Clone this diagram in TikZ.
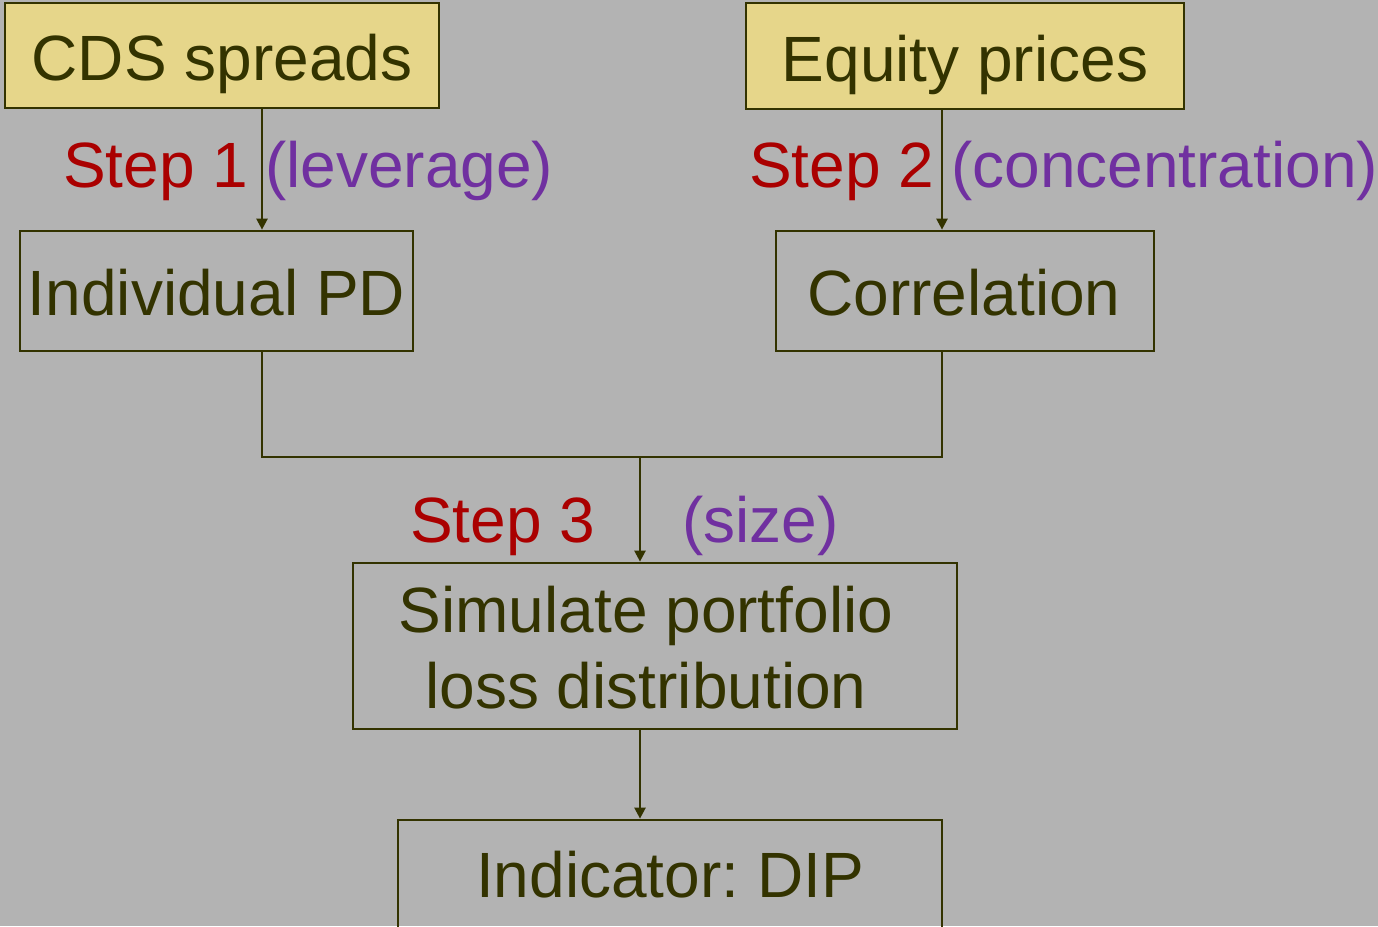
\documentclass[tikz,border=0pt]{standalone}
\usepackage{fontspec}
\setmainfont{Liberation Sans}
\usetikzlibrary{arrows.meta}
\definecolor{bg}{HTML}{B3B3B3}
\definecolor{boxfill}{HTML}{E6D68A}
\definecolor{ink}{HTML}{333300}
\definecolor{stepred}{HTML}{AA0000}
\definecolor{notepurple}{HTML}{7030A0}
\frenchspacing
\begin{document}
\begin{tikzpicture}[x=1pt,y=-1pt,
  box/.style={draw=ink,line width=2.7pt,inner sep=0pt,rectangle},
  srcbox/.style={box,fill=boxfill},
  lbl/.style={inner sep=0pt,text=ink,font=\fontsize{64pt}{77pt}\selectfont},
  steplbl/.style={lbl,text=stepred},
  notelbl/.style={lbl,text=notepurple},
  conn/.style={draw=ink,line width=2.3pt,-{Triangle[length=11pt,width=11pt]}},
  line/.style={draw=ink,line width=2.3pt}]
\fill[bg] (0,0) rectangle (1378,926);
\useasboundingbox (0,0) rectangle (1378,926);
% boxes
\node[srcbox,minimum width=434pt,minimum height=105pt] (cds) at (222,55.5) {};
\node[srcbox,minimum width=438pt,minimum height=106pt] (eq) at (965,56) {};
\node[box,minimum width=393pt,minimum height=120pt] (pd) at (216.5,291) {};
\node[box,minimum width=378pt,minimum height=120pt] (corr) at (965,291) {};
\node[box,minimum width=604pt,minimum height=166pt] (sim) at (655,646) {};
\node[box,minimum width=544pt,minimum height=114pt] (ind) at (670,877) {};
% texts
\node[lbl,anchor=base] (tcds) at (222,80) {CDS spreads};
\node[lbl,anchor=base] (teq) at (965,81) {Equity prices};
\node[lbl,anchor=base] (tpd) at (216.5,315) {Individual PD};
\node[lbl,anchor=base] (tcorr) at (964,315) {Correlation};
\node[lbl,anchor=base] (tsim1) at (646,632) {Simulate portfolio};
\node[lbl,anchor=base] (tsim2) at (646,708) {loss distribution};
\node[lbl,anchor=base] (tind) at (670,897) {Indicator: DIP};
\node[steplbl,anchor=base west] (s1) at (63,187) {Step 1};
\node[notelbl,anchor=base west] (n1) at (265,187) {(leverage)};
\node[steplbl,anchor=base west] (s2) at (749,187) {Step 2};
\node[notelbl,anchor=base west] (n2) at (951,187) {(concentration)};
\node[steplbl,anchor=base west] (s3) at (410,542) {Step 3};
\node[notelbl,anchor=base west] (n3) at (682,542) {(size)};
% connectors
\coordinate (c1) at (262,0);
\coordinate (c2) at (942,0);
\coordinate (j) at (640,457);
\draw[conn] (cds.south -| c1) -- (pd.north -| c1);
\draw[conn] (eq.south -| c2) -- (corr.north -| c2);
\draw[line] (pd.south -| c1) -- (c1 |- j) -- (c2 |- j) -- (corr.south -| c2);
\draw[conn] (j) -- (sim.north -| j);
\draw[conn] (sim.south -| j) -- (ind.north -| j);
\end{tikzpicture}
\end{document}
